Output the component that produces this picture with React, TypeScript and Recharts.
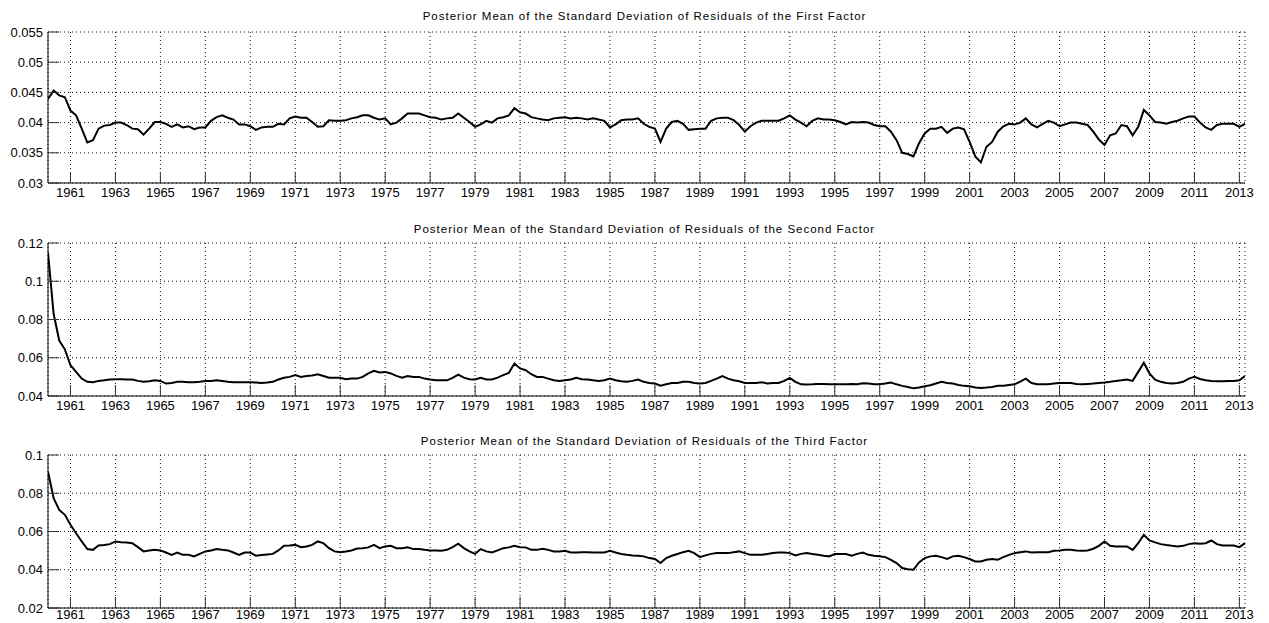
import React from "react";
import { LineChart, Line, XAxis, YAxis, CartesianGrid } from "recharts";

// quarterly observations, 1960Q1 .. 2013Q2
const START_YEAR = 1960;

const yearTicks = [
  1961, 1963, 1965, 1967, 1969, 1971, 1973, 1975, 1977, 1979, 1981, 1983, 1985,
  1987, 1989, 1991, 1993, 1995, 1997, 1999, 2001, 2003, 2005, 2007, 2009, 2011,
  2013,
];

const firstFactor = [
  0.0439, 0.0453, 0.0445, 0.0442, 0.042, 0.0412, 0.039, 0.0367,
  0.0371, 0.039, 0.0395, 0.0396, 0.04, 0.04, 0.0396, 0.039,
  0.0389, 0.038, 0.039, 0.0401, 0.0401, 0.0398, 0.0393, 0.0397,
  0.0392, 0.0394, 0.0389, 0.0392, 0.0392, 0.0403, 0.0409, 0.0412,
  0.0408, 0.0405, 0.0397, 0.0397, 0.0394, 0.0388, 0.0392, 0.0393,
  0.0393, 0.0398, 0.0397, 0.0407, 0.041, 0.0408, 0.0408, 0.0401,
  0.0393, 0.0394, 0.0404, 0.0403, 0.0403, 0.0404, 0.0407, 0.0409,
  0.0412, 0.0412, 0.0408, 0.0405, 0.0407, 0.0397, 0.04, 0.0407,
  0.0415, 0.0415, 0.0415, 0.0412, 0.0409, 0.0408, 0.0405, 0.0407,
  0.0408, 0.0415, 0.0408, 0.0401, 0.0393, 0.0397, 0.0403, 0.04,
  0.0407, 0.0409, 0.0412, 0.0424, 0.0417, 0.0415, 0.0409, 0.0407,
  0.0405, 0.0404, 0.0407, 0.0408, 0.0409, 0.0407, 0.0408, 0.0407,
  0.0405, 0.0407, 0.0405, 0.0403, 0.0392, 0.0397, 0.0404, 0.0405,
  0.0405, 0.0407, 0.0398, 0.0393, 0.039, 0.0368, 0.039, 0.0401,
  0.0403, 0.0398, 0.0388, 0.0389, 0.039, 0.039, 0.0403, 0.0407,
  0.0408, 0.0408, 0.0404, 0.0396, 0.0385, 0.0394, 0.04, 0.0403,
  0.0403, 0.0403, 0.0403, 0.0407, 0.0412, 0.0405, 0.04, 0.0394,
  0.0403, 0.0407, 0.0405, 0.0405, 0.0404, 0.0401, 0.0397, 0.0401,
  0.04, 0.0401, 0.04, 0.0396, 0.0394, 0.0394, 0.0385, 0.0371,
  0.035, 0.0348, 0.0344, 0.0366, 0.0382, 0.039, 0.039, 0.0393,
  0.0383, 0.039, 0.0392, 0.0389, 0.0368, 0.0344, 0.0334, 0.036,
  0.0368, 0.0385, 0.0394, 0.0398, 0.0397, 0.04, 0.0407, 0.0397,
  0.0392, 0.0398, 0.0403, 0.04, 0.0394, 0.0397, 0.04, 0.04,
  0.0398, 0.0396, 0.0385, 0.0372, 0.0363, 0.0379, 0.0382, 0.0396,
  0.0394, 0.0379, 0.0393, 0.0421, 0.0412, 0.0401, 0.04, 0.0398,
  0.0401, 0.0403, 0.0407, 0.041, 0.041, 0.04, 0.0392, 0.0388,
  0.0396, 0.0398, 0.0398, 0.0398, 0.0393, 0.0398,
];

const secondFactor = [
  0.115, 0.083, 0.069, 0.0644, 0.0561, 0.0526, 0.0491, 0.0474,
  0.0472, 0.0479, 0.0482, 0.0486, 0.0488, 0.0488, 0.0486, 0.0486,
  0.0479, 0.0474, 0.0477, 0.0482, 0.0479, 0.0465, 0.0468, 0.0474,
  0.0474, 0.0472, 0.0472, 0.0475, 0.0479, 0.0479, 0.0482, 0.0479,
  0.0474, 0.0472, 0.0472, 0.0472, 0.0472, 0.047, 0.0468, 0.047,
  0.0474, 0.0486, 0.0495, 0.05, 0.0509, 0.05, 0.0505, 0.0507,
  0.0514, 0.0505, 0.0496, 0.0495, 0.0495, 0.0488, 0.0491, 0.0491,
  0.05, 0.0518, 0.0532, 0.0523, 0.0526, 0.0518, 0.0505, 0.0496,
  0.0505, 0.05, 0.05, 0.0491, 0.0486, 0.0482, 0.0482, 0.0482,
  0.0495, 0.0512, 0.0496, 0.0488, 0.0486, 0.0495, 0.0486, 0.0486,
  0.0496, 0.0509, 0.0521, 0.057, 0.0544, 0.0535, 0.0514, 0.05,
  0.05, 0.0491, 0.0482, 0.0479, 0.0482, 0.0486, 0.0495, 0.0488,
  0.0486, 0.0482, 0.0479, 0.0482, 0.0491, 0.0482, 0.0477, 0.0474,
  0.0479, 0.0486, 0.0474, 0.0468, 0.0465, 0.0454, 0.0461, 0.0468,
  0.0468, 0.0474, 0.0474, 0.0468, 0.0465, 0.0468, 0.0479, 0.0491,
  0.0504, 0.0491, 0.0482, 0.0477, 0.0468, 0.0468, 0.0468, 0.0472,
  0.0465, 0.0468, 0.0468, 0.0479, 0.0495, 0.0474, 0.0461, 0.046,
  0.0461, 0.0463, 0.0463, 0.0461, 0.0461, 0.0461, 0.0461, 0.0463,
  0.0461, 0.0467, 0.0465, 0.0461, 0.0461, 0.0465, 0.047, 0.0461,
  0.0453, 0.0447, 0.044, 0.0444, 0.0451, 0.0456, 0.0465, 0.0474,
  0.0468, 0.0465, 0.0458, 0.0453, 0.0451, 0.0444, 0.0442, 0.0444,
  0.0447, 0.0453, 0.0454, 0.0458, 0.0461, 0.0475, 0.0491, 0.0468,
  0.0461, 0.0461, 0.0461, 0.0465, 0.0468, 0.0468, 0.0468, 0.0463,
  0.0461, 0.0463, 0.0465, 0.0468, 0.047, 0.0474, 0.0479, 0.0482,
  0.0486, 0.0479, 0.0526, 0.0574, 0.0518, 0.0486, 0.0474, 0.0468,
  0.0465, 0.0468, 0.0474, 0.0491, 0.05, 0.0489, 0.0482, 0.0479,
  0.0477, 0.0477, 0.0479, 0.0479, 0.0482, 0.0504,
];

const thirdFactor = [
  0.0913, 0.0774, 0.0713, 0.0687, 0.0635, 0.0591, 0.0548, 0.0508,
  0.0504, 0.0527, 0.053, 0.0534, 0.0548, 0.0544, 0.0543, 0.0539,
  0.0518, 0.0496, 0.0501, 0.0504, 0.0501, 0.049, 0.0478, 0.049,
  0.0478, 0.0478, 0.047, 0.0483, 0.0496, 0.0501, 0.0508, 0.0504,
  0.0501, 0.049, 0.0477, 0.049, 0.049, 0.0473, 0.0477, 0.048,
  0.0483, 0.0501, 0.0525, 0.0527, 0.053, 0.0518, 0.0522, 0.053,
  0.0548, 0.0539, 0.0513, 0.0496, 0.0492, 0.0496, 0.0501, 0.0511,
  0.0513, 0.0517, 0.053, 0.0513, 0.0522, 0.0525, 0.0513, 0.0513,
  0.0517, 0.0508, 0.0508, 0.0504, 0.0501, 0.0501, 0.0499, 0.0504,
  0.0518, 0.0536, 0.0513, 0.0496, 0.0483, 0.0508, 0.0496, 0.049,
  0.0501, 0.0513, 0.0517, 0.0525, 0.0518, 0.0517, 0.0504, 0.0504,
  0.051, 0.0504, 0.0496, 0.0496, 0.0499, 0.049, 0.049, 0.0492,
  0.0492, 0.049, 0.049, 0.049, 0.0499, 0.049, 0.0482, 0.0478,
  0.0475, 0.0473, 0.047, 0.0461, 0.0456, 0.0435, 0.0461, 0.0473,
  0.0482, 0.0492, 0.0499, 0.0487, 0.0466, 0.0475, 0.0483, 0.0487,
  0.0487, 0.0487, 0.0492, 0.0496, 0.0487, 0.0478, 0.0478, 0.0478,
  0.0482, 0.0487, 0.049, 0.049, 0.0487, 0.0475, 0.0483, 0.0487,
  0.0482, 0.0478, 0.0473, 0.047, 0.0482, 0.0482, 0.0482, 0.0473,
  0.0483, 0.049, 0.0478, 0.0473, 0.047, 0.0466, 0.0452, 0.0435,
  0.0409, 0.0403, 0.04, 0.0438, 0.0461, 0.047, 0.0473, 0.0466,
  0.0457, 0.047, 0.0473, 0.0466, 0.0456, 0.0443, 0.0443, 0.0452,
  0.0456, 0.0452, 0.0466, 0.0478, 0.0487, 0.0492, 0.0496, 0.049,
  0.0492, 0.0492, 0.0492, 0.0499, 0.0501, 0.0504, 0.0504, 0.0501,
  0.0499, 0.0501, 0.051, 0.0525, 0.0548, 0.0525, 0.0522, 0.0522,
  0.0522, 0.0504, 0.0539, 0.0583, 0.0553, 0.0543, 0.0534, 0.0529,
  0.0525, 0.0522, 0.0525, 0.0534, 0.0539, 0.0536, 0.0539, 0.0553,
  0.0534, 0.0527, 0.0527, 0.0527, 0.0518, 0.0539,
];

const firstTicks = [0.03, 0.035, 0.04, 0.045, 0.05, 0.055];
const secondTicks = [0.04, 0.06, 0.08, 0.1, 0.12];
const thirdTicks = [0.02, 0.04, 0.06, 0.08, 0.1];

const titles = [
  "Posterior Mean of the Standard Deviation of Residuals of the First Factor",
  "Posterior Mean of the Standard Deviation of Residuals of the Second Factor",
  "Posterior Mean of the Standard Deviation of Residuals of the Third Factor",
];

const FONT = "'Liberation Sans', Arial, Helvetica, sans-serif";
const WIDTH = 1269;
const X_DOMAIN = [1960, 2013.25];
const TICK_LEN = 11;
const X_AXIS_H = 20;

const tickText = { fontFamily: FONT, fontSize: 13, fill: "#000" };
const boxLine = { stroke: "#000", strokeWidth: 1 };
const tickLine = { stroke: "#333", strokeWidth: 1 };

type PanelProps = {
  title: string;
  values: number[];
  ticks: number[];
  top: number;
  plotTop: number;
  plotBottom: number;
  titleY: number;
  labelGap: number;
};

function Panel({ title, values, ticks, top, plotTop, plotBottom, titleY, labelGap }: PanelProps) {
  const data = values.map((v, i) => ({ t: START_YEAR + i / 4, v }));
  const height = plotBottom - top + X_AXIS_H;
  const yDomain = [ticks[0], ticks[ticks.length - 1]];

  return (
    <>
      <div
        style={{
          position: "absolute",
          left: 48,
          width: 1193,
          top: titleY - 7,
          textAlign: "center",
          fontFamily: FONT,
          fontSize: 11.5,
          letterSpacing: 1,
          lineHeight: "13px",
          color: "#000",
          whiteSpace: "nowrap",
        }}
      >
        {title}
      </div>
      <div style={{ position: "absolute", left: 0, top }}>
        <LineChart
          width={WIDTH}
          height={height}
          data={data}
          margin={{ top: plotTop - top, right: 24, bottom: 0, left: 0 }}
        >
          <CartesianGrid stroke="#111" strokeDasharray="1 3" />
          <XAxis
            dataKey="t"
            type="number"
            domain={X_DOMAIN}
            ticks={yearTicks}
            interval={0}
            allowDataOverflow
            height={X_AXIS_H}
            tickSize={-TICK_LEN}
            tickMargin={TICK_LEN + labelGap}
            tick={tickText}
            axisLine={boxLine}
            tickLine={tickLine}
          />
          <XAxis
            xAxisId="top"
            orientation="top"
            dataKey="t"
            type="number"
            domain={X_DOMAIN}
            ticks={yearTicks}
            interval={0}
            allowDataOverflow
            height={0}
            tickSize={-TICK_LEN}
            tick={false}
            axisLine={boxLine}
            tickLine={tickLine}
          />
          <YAxis
            type="number"
            domain={yDomain}
            ticks={ticks}
            interval={0}
            allowDataOverflow
            width={48}
            tickSize={-TICK_LEN}
            tickMargin={TICK_LEN + 5}
            tick={tickText}
            tickFormatter={(v: number) => String(v)}
            axisLine={boxLine}
            tickLine={tickLine}
          />
          <YAxis
            yAxisId="right"
            orientation="right"
            type="number"
            domain={yDomain}
            ticks={ticks}
            interval={0}
            allowDataOverflow
            width={0}
            tickSize={-TICK_LEN}
            tick={false}
            axisLine={boxLine}
            tickLine={tickLine}
          />
          <Line
            type="linear"
            dataKey="v"
            stroke="#000"
            strokeWidth={2}
            dot={false}
            isAnimationActive={false}
          />
        </LineChart>
      </div>
    </>
  );
}

export default function App() {
  return (
    <div
      style={{
        position: "absolute",
        left: 0,
        top: 0,
        width: WIDTH,
        height: 623,
        overflow: "hidden",
        background: "#fff",
      }}
    >
      <Panel title={titles[0]} values={firstFactor} ticks={firstTicks} top={0} plotTop={32} plotBottom={183} titleY={17} labelGap={5} />
      <Panel title={titles[1]} values={secondFactor} ticks={secondTicks} top={210} plotTop={243} plotBottom={396} titleY={230} labelGap={5} />
      <Panel title={titles[2]} values={thirdFactor} ticks={thirdTicks} top={420} plotTop={455} plotBottom={608} titleY={442} labelGap={2} />
    </div>
  );
}
